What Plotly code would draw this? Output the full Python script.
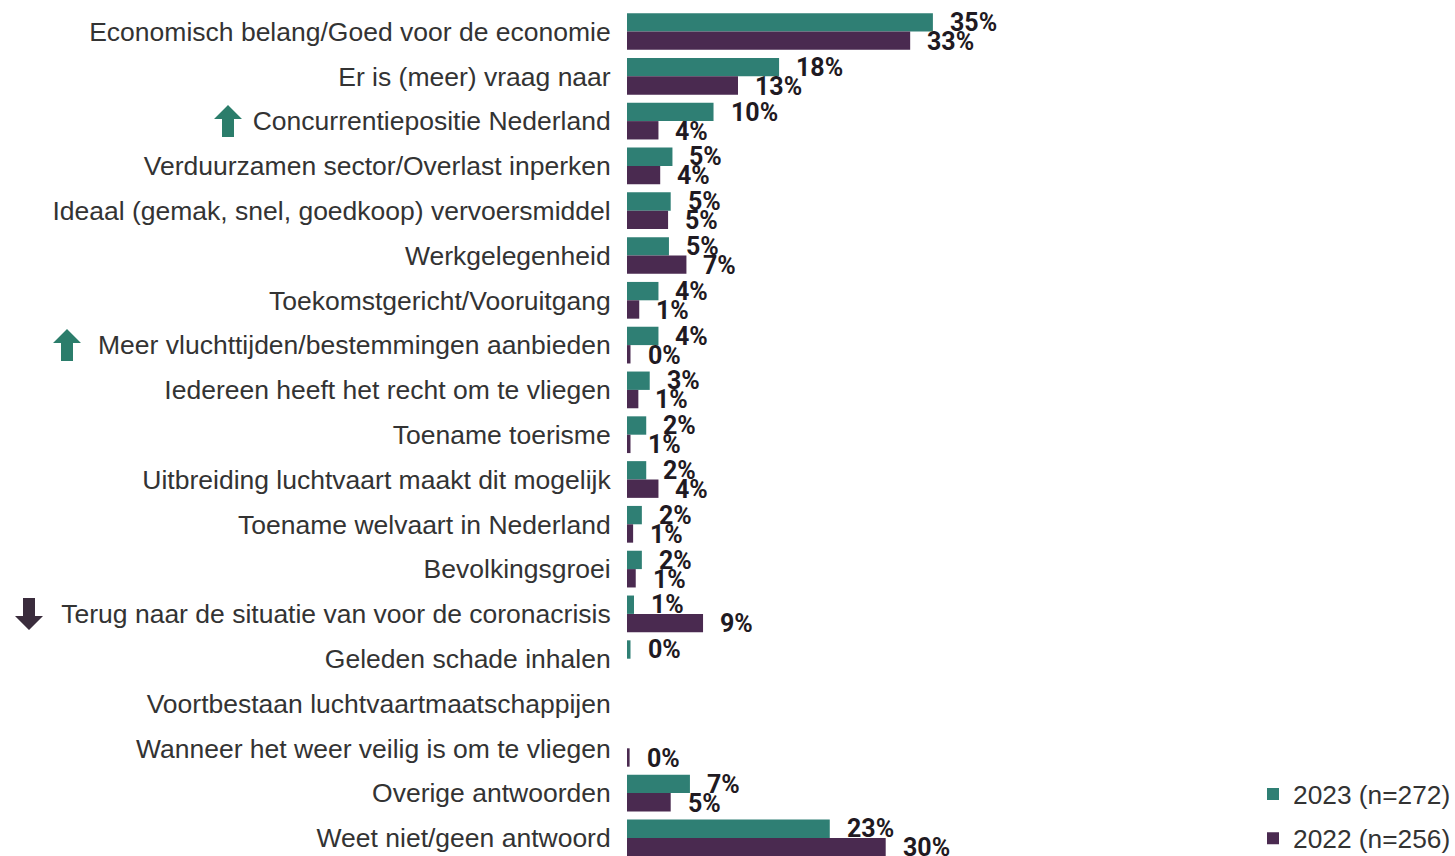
import plotly.graph_objects as go

categories = [
    "Economisch belang/Goed voor de economie", "Er is (meer) vraag naar",
    "Concurrentiepositie Nederland", "Verduurzamen sector/Overlast inperken",
    "Ideaal (gemak, snel, goedkoop) vervoersmiddel", "Werkgelegenheid",
    "Toekomstgericht/Vooruitgang", "Meer vluchttijden/bestemmingen aanbieden",
    "Iedereen heeft het recht om te vliegen", "Toename toerisme",
    "Uitbreiding luchtvaart maakt dit mogelijk", "Toename welvaart in Nederland",
    "Bevolkingsgroei", "Terug naar de situatie van voor de coronacrisis",
    "Geleden schade inhalen", "Voortbestaan luchtvaartmaatschappijen",
    "Wanneer het weer veilig is om te vliegen", "Overige antwoorden",
    "Weet niet/geen antwoord",
]
values_2023 = [35.0, 17.4, 9.9, 5.2, 5.0, 4.8, 3.6, 3.6, 2.6, 2.2, 2.2, 1.7, 1.7, 0.8, 0.4, None, None, 7.2, 23.2]
values_2022 = [32.4, 12.7, 3.6, 3.8, 4.7, 6.8, 1.4, 0.4, 1.3, 0.4, 3.6, 0.7, 1.0, 8.7, None, None, 0.3, 5.0, 29.6]
labels_2023 = ["35%", "18%", "10%", "5%", "5%", "5%", "4%", "4%", "3%", "2%", "2%", "2%", "2%", "1%", "0%", None, None, "7%", "23%"]
labels_2022 = ["33%", "13%", "4%", "4%", "5%", "7%", "1%", "0%", "1%", "1%", "4%", "1%", "1%", "9%", None, None, "0%", "5%", "30%"]
series_names = ["2023 (n=272)", "2022 (n=256)"]
arrow_rows = {"Concurrentiepositie Nederland": "up", "Meer vluchttijden/bestemmingen aanbieden": "up",
              "Terug naar de situatie van voor de coronacrisis": "down"}

TEAL, PLUM = "#2F7F74", "#4A2A50"
ARROW_TEAL, ARROW_DARK = "#2B7D6B", "#3A2C3C"
W, H, LEFT = 1455, 856, 627
PX_PER_PCT = 8.74
PITCH, FIRST = 44.8, 31.5

fig = go.Figure()
for name, vals, col in [(series_names[0], values_2023, TEAL), (series_names[1], values_2022, PLUM)]:
    fig.add_bar(y=categories, x=vals, name=name, orientation="h", marker_color=col,
                legendgroup=name, marker_line_width=0)

ann = []
for labels, vals, shift in [(labels_2023, values_2023, -9), (labels_2022, values_2022, 10)]:
    for c, l, v in zip(categories, labels, vals):
        if l is None:
            continue
        ann.append(dict(x=v, y=c, text=f"<b>{l}</b>", showarrow=False, xanchor="left", xshift=15, yshift=-shift,
                        font=dict(family="Roboto", size=25, color="#1F1A22")))

arrow_x = {"Concurrentiepositie Nederland": 228, "Meer vluchttijden/bestemmingen aanbieden": 67,
           "Terug naar de situatie van voor de coronacrisis": 29}
shapes = []
for c, d in arrow_rows.items():
    s = 1 if d == "up" else -1
    col = ARROW_TEAL if d == "up" else ARROW_DARK
    path = (f"M-6,{-16*s} L-6,{2*s} L-14,{2*s} L0,{16*s} L14,{2*s} L6,{2*s} L6,{-16*s} Z")
    shapes.append(dict(type="path", xref="paper", yref="y", xsizemode="pixel", ysizemode="pixel",
                       xanchor=(arrow_x[c] - LEFT) / (W - LEFT), yanchor=c, path=path,
                       fillcolor=col, line_width=0))

fig.update_layout(
    width=W, height=H, margin=dict(l=LEFT, r=0, t=0, b=0, autoexpand=False),
    paper_bgcolor="white", plot_bgcolor="white", barmode="group", bargap=0.18, bargroupgap=0,
    annotations=ann, shapes=shapes, font=dict(family="Liberation Sans", color="#333333", size=26.5),
    legend=dict(x=(1253 - LEFT) / (W - LEFT), y=0.1, xanchor="left", yanchor="top",
                tracegroupgap=7, traceorder="grouped", bgcolor="rgba(0,0,0,0)",
                font=dict(family="Liberation Sans", size=26.3, color="#333333")),
    xaxis=dict(visible=False, range=[0, (W - LEFT) / PX_PER_PCT]),
    yaxis=dict(type="category", categoryorder="array", categoryarray=categories,
               range=[(H - FIRST) / PITCH, -FIRST / PITCH], showline=False, showgrid=False, zeroline=False,
               ticks="outside", ticklen=10, tickcolor="rgba(0,0,0,0)", automargin=False,
               tickfont=dict(family="Liberation Sans", size=26.5, color="#333333")),
)
fig.write_html("out.html", config={"displayModeBar": False},
               post_script="document.body.style.margin='0';document.documentElement.style.overflow='hidden';")
